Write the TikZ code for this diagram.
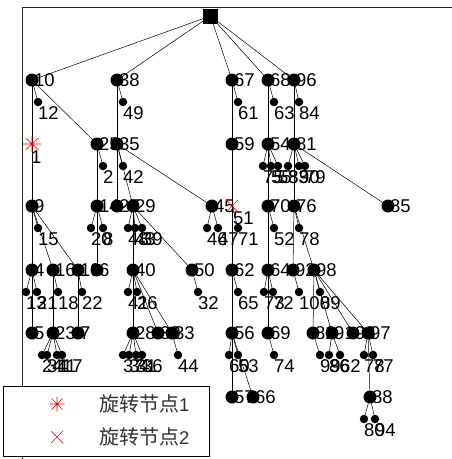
\documentclass[tikz,border=0pt]{standalone}
\usepackage{fontspec}
\setmainfont{Liberation Sans}
\newfontfamily\cjk{Noto Sans CJK SC}
\pgfdeclarelayer{edg}\pgfdeclarelayer{lab}
\pgfsetlayers{edg,lab,main}
\tikzset{
  bigdot/.style={circle,fill=black,inner sep=0pt,minimum size=13pt},
  smalldot/.style={circle,fill=black,inner sep=0pt,minimum size=8.5pt},
  lbl/.style={anchor=west,inner sep=0pt,font=\fontsize{18.5}{18.5}\selectfont},
  edge/.style={draw=black,line width=0.5pt},
  redmark/.style={draw=red,line width=0.6pt},
}
\newcommand\BN[4]{\node[bigdot] (#1) at (#2,#3) {};
  \begin{pgfonlayer}{lab}\node[lbl] (t#1) at (#2+2,#3) {#4};\end{pgfonlayer}}
\newcommand\LN[4]{\node[smalldot] (#1) at (#2,#3) {};
  \begin{pgfonlayer}{lab}\node[lbl] (t#1) at (#2,#3+11) {#4};\end{pgfonlayer}}
\newcommand\E[2]{\begin{pgfonlayer}{edg}\draw[edge] (#1.center) -- (#2.center);\end{pgfonlayer}}
\begin{document}
\begin{tikzpicture}[x=1pt,y=-1pt]
\useasboundingbox (0,0) rectangle (452,459);
% axes
\draw[line width=0.8pt,black!85] (22.5,459) -- (22.5,7.5) -- (452,7.5);
% root
\node[rectangle,fill=black,inner sep=0pt,minimum size=15pt] (root) at (210.5,16) {};
% level 1
\BN{n10}{32}{80}{10}
\BN{n38}{117}{80}{38}
\BN{n67}{232}{80}{67}
\BN{n68}{268}{80}{68}
\BN{n96}{294}{80}{96}
\LN{l12}{38}{102}{12}
\LN{l49}{123}{102}{49}
\LN{l61}{238}{102}{61}
\LN{l63}{274}{102}{63}
\LN{l84}{299}{102}{84}
% level 2
\coordinate (s1) at (32,144);
\draw[redmark] (s1) +(-9,0) -- +(9,0) (s1) +(0,-8) -- +(0,8) (s1) +(-6.5,-6) -- +(6.5,6) (s1) +(-6.5,6) -- +(6.5,-6);
\begin{pgfonlayer}{lab}\node[lbl] (ts1) at (31,157) {1};\end{pgfonlayer}
\BN{n25}{97}{144}{25}
\BN{n35}{117}{144}{35}
\BN{n59}{232}{144}{59}
\BN{n54}{268}{144}{54}
\BN{n81}{294}{144}{81}
\LN{l2}{103}{166}{2}
\LN{l42}{123}{166}{42}
\LN{l75}{263}{166}{75}
\LN{l55}{271}{166}{55}
\LN{l58}{278}{166}{58}
\LN{l83}{288}{166}{83}
\LN{l90}{299}{166}{90}
\LN{l79}{305}{166}{79}
% level 3
\BN{n9}{32}{206}{9}
\BN{n14}{97}{206}{14}
\BN{n27}{117}{206}{27}
\BN{n29}{133}{206}{29}
\BN{n45}{212}{206}{45}
\coordinate (x51) at (232,206);
\BN{n70}{268}{206}{70}
\BN{n76}{294}{206}{76}
\BN{n85}{388}{206}{85}
\LN{l15}{38}{228}{15}
\LN{l20}{91}{228}{20}
\LN{l8}{103}{228}{8}
\LN{l48}{128}{228}{48}
\LN{l43}{135}{228}{43}
\LN{l39}{142}{228}{39}
\LN{l46}{207}{228}{46}
\LN{l47}{218}{228}{47}
\LN{l71}{238}{228}{71}
\LN{l52}{274}{228}{52}
\LN{l78}{299}{228}{78}
% level 4
\BN{n4}{32}{270}{4}
\BN{n16}{53}{270}{16}
\BN{n19}{78}{270}{19}
\BN{n6}{97}{270}{6}
\BN{n40}{133}{270}{40}
\BN{n50}{192}{270}{50}
\BN{n62}{232}{270}{62}
\BN{n64}{268}{270}{64}
\BN{n92}{293}{270}{92}
\BN{n98}{314}{270}{98}
\LN{l13}{26}{292}{13}
\LN{l21}{37}{292}{21}
\LN{l18}{58}{292}{18}
\LN{l22}{82}{292}{22}
\LN{l41}{128}{292}{41}
\LN{l26}{137}{292}{26}
\LN{l32}{198}{292}{32}
\LN{l65}{238}{292}{65}
\LN{l73}{264}{292}{73}
\LN{l72}{273}{292}{72}
\LN{l100}{299}{292}{100}
\LN{l89}{320}{292}{89}
% level 5
\BN{n5}{32}{333}{5}
\BN{n23}{53}{333}{23}
\BN{n7}{78}{333}{7}
\BN{n28}{133}{333}{28}
\BN{n30}{158}{333}{30}
\BN{n33}{172}{333}{33}
\BN{n56}{232}{333}{56}
\BN{n69}{268}{333}{69}
\BN{n82}{313}{333}{82}
\BN{n91}{332}{333}{91}
\BN{n93}{353}{333}{93}
\BN{n97}{368}{333}{97}
\LN{l24}{42}{355}{24}
\LN{l34a}{47}{355}{34}
\LN{l11}{57}{355}{11}
\LN{l17}{62}{355}{17}
\LN{l37}{123}{355}{37}
\LN{l34}{129}{355}{34}
\LN{l31}{136}{355}{31}
\LN{l36}{142}{355}{36}
\LN{l44}{178}{355}{44}
\LN{l60}{229}{355}{60}
\LN{l53}{238}{355}{53}
\LN{l74}{274}{355}{74}
\LN{l99}{320}{355}{99}
\LN{l86}{329}{355}{86}
\LN{l62}{340}{355}{62}
\LN{l78b}{364}{355}{78}
\LN{l77}{373}{355}{77}
% level 6
\BN{n57}{232}{397}{57}
\BN{n66}{253}{397}{66}
\BN{n88}{370}{397}{88}
\LN{l80}{364}{419}{80}
\LN{l94}{375}{419}{94}
% red x
\draw[redmark] (x51) +(-6,-6) -- +(6,6) (x51) +(-6,6) -- +(6,-6);
\begin{pgfonlayer}{lab}\node[lbl] (tx51) at (233,218.5) {51};\end{pgfonlayer}
% edges
\E{root}{n10}\E{root}{n38}\E{root}{n67}\E{root}{n68}\E{root}{n96}
\E{n10}{l12}\E{n38}{l49}\E{n67}{l61}\E{n68}{l63}\E{n96}{l84}
\E{n10}{s1}\E{n10}{n25}\E{n38}{n35}\E{n67}{n59}\E{n68}{n54}\E{n96}{n81}
\E{n25}{l2}\E{n35}{l42}\E{n54}{l75}\E{n54}{l55}\E{n54}{l58}\E{n81}{l83}\E{n81}{l90}\E{n81}{l79}
\E{s1}{n9}\E{n25}{n14}\E{n35}{n27}\E{n35}{n29}\E{n35}{n45}\E{n59}{x51}\E{n54}{n70}\E{n81}{n76}\E{n81}{n85}
\E{n9}{l15}\E{n14}{l20}\E{n14}{l8}\E{n29}{l48}\E{n29}{l43}\E{n29}{l39}\E{n45}{l46}\E{n45}{l47}\E{x51}{l71}\E{n70}{l52}\E{n76}{l78}
\E{n9}{n4}\E{n9}{n16}\E{n9}{n19}\E{n14}{n6}\E{n29}{n40}\E{n29}{n50}\E{x51}{n62}\E{n70}{n64}\E{n76}{n92}\E{n76}{n98}
\E{n4}{l13}\E{n4}{l21}\E{n16}{l18}\E{n19}{l22}\E{n40}{l41}\E{n40}{l26}\E{n50}{l32}\E{n62}{l65}\E{n64}{l73}\E{n64}{l72}\E{n92}{l100}\E{n98}{l89}
\E{n4}{n5}\E{n16}{n23}\E{n19}{n7}\E{n40}{n28}\E{n40}{n30}\E{n40}{n33}\E{n62}{n56}\E{n64}{n69}\E{n98}{n82}\E{n98}{n91}\E{n98}{n93}\E{n98}{n97}
\E{n23}{l24}\E{n23}{l34a}\E{n23}{l11}\E{n23}{l17}\E{n28}{l37}\E{n28}{l34}\E{n28}{l31}\E{n28}{l36}\E{n33}{l44}
\E{n56}{l60}\E{n56}{l53}\E{n69}{l74}\E{n82}{l99}\E{n91}{l86}\E{n91}{l62}\E{n97}{l78b}\E{n97}{l77}
\E{n56}{n57}\E{n56}{n66}\E{n97}{n88}\E{n88}{l80}\E{n88}{l94}
% legend
\node[draw=black,line width=0.6pt,fill=white,inner sep=0pt,minimum width=206pt,minimum height=70pt,anchor=north west] (legend) at (3,386) {};
\coordinate (m1) at (57,404);
\coordinate (m2) at (57,437);
\draw[redmark] (m1) +(-7.5,0) -- +(7.5,0) (m1) +(0,-7.5) -- +(0,7.5) (m1) +(-5.5,-5.5) -- +(5.5,5.5) (m1) +(-5.5,5.5) -- +(5.5,-5.5);
\draw[redmark] (m2) +(-6,-6) -- +(6,6) (m2) +(-6,6) -- +(6,-6);
\node[lbl,text=black!80] (lg1) at (99,404) {{\cjk\fontsize{20}{20}\selectfont 旋转节点}1};
\node[lbl,text=black!80] (lg2) at (99,437) {{\cjk\fontsize{20}{20}\selectfont 旋转节点}2};
\end{tikzpicture}
\end{document}
